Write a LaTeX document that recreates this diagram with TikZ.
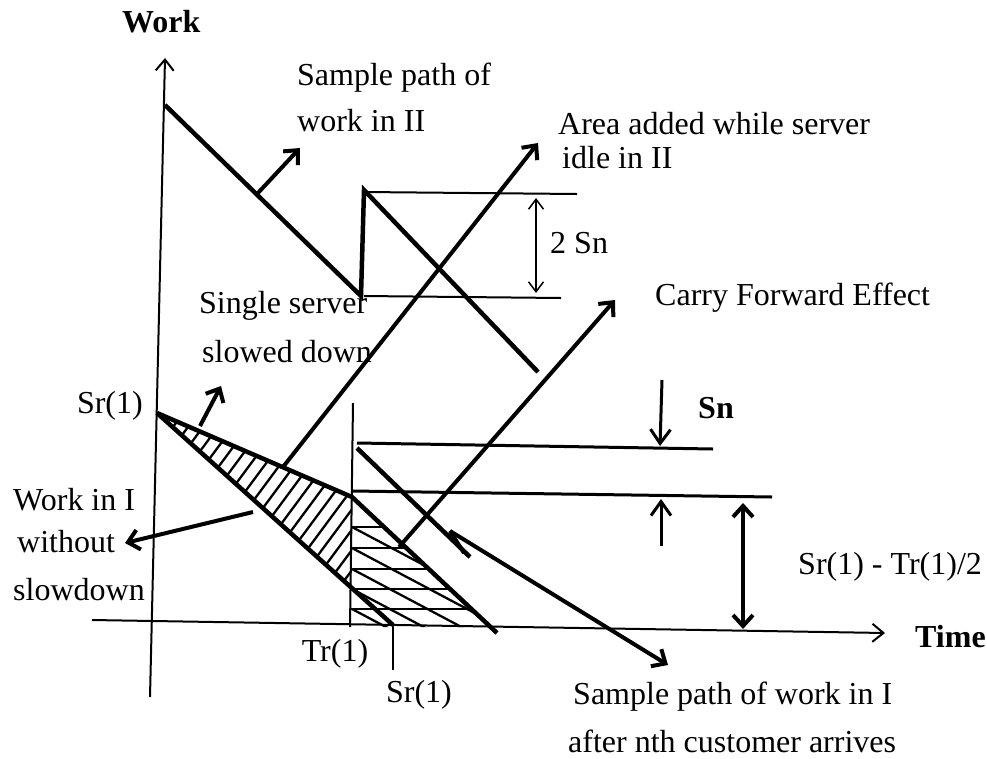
\documentclass[tikz,border=0pt]{standalone}
\usepackage{fontspec}
\setmainfont{Liberation Serif}
\usetikzlibrary{arrows.meta}
\tikzset{
  lbl/.style={font=\fontsize{32}{38}\selectfont, inner sep=0pt, anchor=base west},
  blbl/.style={lbl, font=\fontsize{32}{38}\selectfont\bfseries},
  heavy/.style={line width=4.5pt, line join=miter},
  thinln/.style={line width=2pt},
  midln/.style={line width=3pt},
  hatchln/.style={line width=2.3pt},
  arr/.style={line width=4pt, -{Straight Barb[length=11pt,width=20pt]}},
  darr/.style={line width=4pt, {Straight Barb[length=11pt,width=20pt]}-{Straight Barb[length=11pt,width=20pt]}},
  axisarr/.style={line width=2pt, -{Straight Barb[length=11pt,width=18pt]}},
  thinarr/.style={line width=1.5pt, {Straight Barb[length=10pt,width=15pt]}-{Straight Barb[length=10pt,width=15pt]}}
}
\begin{document}
\begin{tikzpicture}[x=1pt,y=-1pt]
\useasboundingbox (0,0) rectangle (987,758);
\fill[white] (0,0) rectangle (987,758);
% coordinates
\coordinate (yb) at (150,697); \coordinate (yt) at (165,58);
\coordinate (xl) at (92,620);  \coordinate (xr) at (885,633);
\coordinate (p2a) at (165,105); \coordinate (p2b) at (361,296);
\coordinate (p2c) at (364,190); \coordinate (p2d) at (538,372);
\coordinate (h1a) at (364,192); \coordinate (h1b) at (577,194);
\coordinate (h2a) at (364,296); \coordinate (h2b) at (561,298);
\coordinate (d2a) at (536,198); \coordinate (d2b) at (536,293);
\coordinate (a1s) at (257,194); \coordinate (a1e) at (300,148);
\coordinate (a2s) at (283,467); \coordinate (a2e) at (538,143);
\coordinate (a3s) at (399,547); \coordinate (a3e) at (615,300);
\coordinate (ap) at (157,413); \coordinate (up) at (352,497);
\coordinate (ue) at (497,633); \coordinate (le) at (393,625);
\coordinate (lm) at (352,588);
\coordinate (tra) at (353,403); \coordinate (trb) at (350,627);
\coordinate (sra) at (393,625); \coordinate (srb) at (393,670);
\coordinate (s1a) at (357,443); \coordinate (s1b) at (713,449);
\coordinate (s2a) at (352,491); \coordinate (s2b) at (772,497);
\coordinate (p1a) at (357,448); \coordinate (p1b) at (470,557);
\coordinate (a4s) at (450,531); \coordinate (a4e) at (668,665);
\coordinate (a5s) at (200,426); \coordinate (a5e) at (221,386);
\coordinate (a6s) at (253,512); \coordinate (a6e) at (125,543);
\coordinate (a7s) at (662,380); \coordinate (a7e) at (660,446);
\coordinate (a8s) at (661,546); \coordinate (a8e) at (661,499);
\coordinate (a9s) at (743,503); \coordinate (a9e) at (743,629);

% hatching, upper triangle
\begin{scope}
  \clip (ap) -- (up) -- (lm) -- cycle;
  \foreach \x in {0,15,...,390} \draw[hatchln] (\x,620) -- ++(200,-270);
\end{scope}
% hatching, lower region
\begin{scope}
  \clip (up) -- (492,627) -- (350,627) -- cycle;
  \foreach \y in {527,548,569,589,609} {
    \draw[hatchln] (350,\y) -- (520,\y);
    \draw[hatchln] (352,\y) -- ++(200,106);
  }
\end{scope}

% axes
\draw[axisarr] (yb) -- (yt);
\draw[axisarr] (xl) -- (xr);
\draw[thinln] (tra) -- (trb);
\draw[thinln] (sra) -- (srb);

% sample path II
\draw[heavy] (p2a) -- (p2b) -- (p2c) -- (p2d);
\draw[thinln] (h1a) -- (h1b);
\draw[thinln] (h2a) -- (h2b);
\draw[thinarr] (d2a) -- (d2b);

% system I
\draw[heavy] (ap) -- (up) -- (ue);
\draw[heavy] (ap) -- (le);
\draw[midln] (s1a) -- (s1b);
\draw[midln] (s2a) -- (s2b);
\draw[heavy] (p1a) -- (p1b);

% arrows
\draw[arr] (a1s) -- (a1e);
\draw[arr] (a2s) -- (a2e);
\draw[arr] (a3s) -- (a3e);
\draw[arr] (a4s) -- (a4e);
\draw[line width=4pt] (a4s) -- ++(14,22);
\draw[arr] (a5s) -- (a5e);
\draw[arr] (a6s) -- (a6e);
\draw[line width=3pt, -{Straight Barb[length=14pt,width=20pt]}] (a7s) -- (a7e);
\draw[line width=3pt, -{Straight Barb[length=14pt,width=20pt]}] (a8s) -- (a8e);
\draw[darr] (a9s) -- (a9e);

% labels
\node[blbl] (work) at (122,32) {Work};
\node[blbl] (time) at (915,647) {Time};
\node[lbl] (sp2a) at (297,85) {Sample path of};
\node[lbl] (sp2b) at (297,131) {work in II};
\node[lbl] (aa1) at (558,134) {Area added while server};
\node[lbl] (aa2) at (562,168) {idle in II};
\node[lbl] (twosn) at (550,253) {2 Sn};
\node[lbl] (cfe) at (655,305) {Carry Forward Effect};
\node[lbl] (ss1) at (199,313) {Single server};
\node[lbl] (ss2) at (202,362) {slowed down};
\node[lbl, anchor=base east] (sr1) at (143,413) {Sr(1)};
\node[blbl] (sn) at (698,418) {Sn};
\node[lbl] (wi1) at (13,510) {Work in I};
\node[lbl] (wi2) at (17,552) {without};
\node[lbl] (wi3) at (13,600) {slowdown};
\node[lbl] (diff) at (798,574) {Sr(1) - Tr(1)/2};
\node[lbl, anchor=base] (tr) at (335,661) {Tr(1)};
\node[lbl, anchor=base] (sr2) at (419,702) {Sr(1)};
\node[lbl] (sp1a) at (573,704) {Sample path of work in I};
\node[lbl] (sp1b) at (568,752) {after nth customer arrives};
\end{tikzpicture}
\end{document}
